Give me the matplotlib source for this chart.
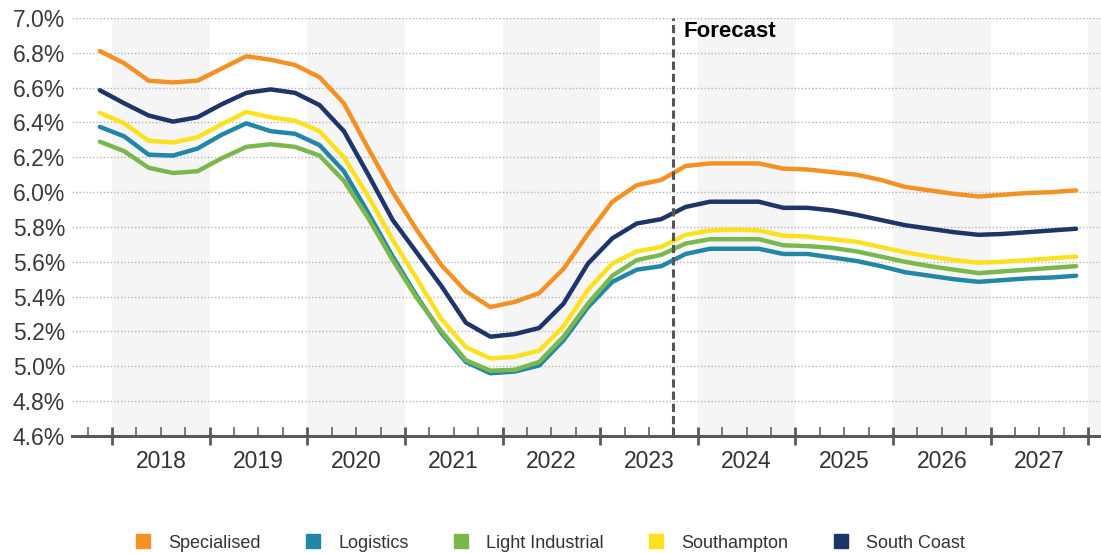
import numpy as np
import pandas as pd
import matplotlib
matplotlib.use("Agg")
import matplotlib.pyplot as plt
from matplotlib.lines import Line2D

plt.rcParams['font.family'] = ['Liberation Sans', 'DejaVu Sans']

# quarterly yields, 2017 Q4 to 2027 Q4 (%)
quarters = pd.period_range("2017Q4", "2027Q4", freq="Q")
years = list(range(2018, 2028))
forecast_from = 2023.75

specialised = [6.81, 6.74, 6.64, 6.63, 6.64, 6.71, 6.78, 6.76, 6.73, 6.66,
               6.51, 6.25, 6.00, 5.78, 5.58, 5.43, 5.34, 5.37, 5.42, 5.56,
               5.76, 5.945, 6.04, 6.07, 6.15, 6.165, 6.165, 6.165, 6.135, 6.13,
               6.115, 6.10, 6.07, 6.03, 6.01, 5.99, 5.975, 5.985, 5.995, 6.00, 6.01]
logistics = [6.375, 6.32, 6.215, 6.21, 6.25, 6.33, 6.395, 6.35, 6.335, 6.27,
             6.12, 5.88, 5.63, 5.40, 5.19, 5.025, 4.96, 4.97, 5.005, 5.15,
             5.34, 5.485, 5.555, 5.575, 5.645, 5.675, 5.675, 5.675, 5.645, 5.645,
             5.625, 5.605, 5.575, 5.54, 5.52, 5.50, 5.485, 5.495, 5.505, 5.51, 5.52]
light_industrial = [6.29, 6.235, 6.14, 6.11, 6.12, 6.195, 6.26, 6.275, 6.26, 6.21,
                    6.065, 5.85, 5.61, 5.39, 5.20, 5.035, 4.975, 4.98, 5.025, 5.17,
                    5.36, 5.52, 5.61, 5.64, 5.705, 5.73, 5.73, 5.73, 5.695, 5.69,
                    5.68, 5.66, 5.63, 5.60, 5.575, 5.555, 5.535, 5.545, 5.555, 5.565, 5.575]
southampton = [6.455, 6.395, 6.295, 6.285, 6.315, 6.39, 6.46, 6.43, 6.41, 6.35,
               6.20, 5.975, 5.725, 5.50, 5.27, 5.11, 5.045, 5.055, 5.09, 5.23,
               5.44, 5.59, 5.66, 5.685, 5.755, 5.78, 5.785, 5.78, 5.75, 5.745,
               5.73, 5.715, 5.685, 5.655, 5.63, 5.61, 5.595, 5.60, 5.61, 5.62, 5.63]
south_coast = [6.585, 6.51, 6.44, 6.405, 6.43, 6.505, 6.57, 6.59, 6.57, 6.50,
               6.35, 6.10, 5.84, 5.65, 5.46, 5.25, 5.17, 5.185, 5.22, 5.36,
               5.59, 5.735, 5.82, 5.845, 5.915, 5.945, 5.945, 5.945, 5.91, 5.91,
               5.895, 5.87, 5.84, 5.81, 5.79, 5.77, 5.755, 5.76, 5.77, 5.78, 5.79]

series = {
    'Specialised': (specialised, '#F39124'),
    'Logistics': (logistics, '#2286A6'),
    'Light Industrial': (light_industrial, '#7AB84E'),
    'Southampton': (southampton, '#FCE11E'),
    'South Coast': (south_coast, '#1D3568'),
}

# plot each quarter in the middle of its quarter
x = np.array(quarters.year + (quarters.quarter - 1) * 0.25 + 0.125)

fig = plt.figure(figsize=(11.01, 5.53), dpi=100)
ax = fig.add_axes([0.0654, 0.2116, 0.9346, 0.7559])

# alternating year bands
for y in years + [2028]:
    if y % 2 == 0:
        ax.axvspan(y, y + 1, color='#f5f5f5', lw=0, zorder=0)

yticks = np.round(np.arange(4.6, 7.01, 0.2), 1)
for v in yticks[1:]:
    ax.axhline(v, color='#b5b5b5', lw=1.0, ls=(0, (1, 1.5)), zorder=1)

for name, (vals, col) in series.items():
    ax.plot(x, vals, color=col, lw=3.2, solid_joinstyle='round',
            solid_capstyle='round', zorder=3, label=name)

ax.axvline(forecast_from, color='#555555', lw=2.2, ls=(0, (2.7, 1.3)), zorder=4)
ax.text(forecast_from + 0.1, 6.925, 'Forecast', fontsize=16, fontweight='bold',
        color='black', ha='left', va='center', zorder=5)

ax.set_xlim(2017.59, 2028.13)
ax.set_ylim(4.6, 7.0)

ax.set_yticks(yticks)
ax.set_yticklabels([f"{v:.1f}%" for v in yticks], fontsize=16.5, color='#3a3a3a')
ax.tick_params(axis='y', length=0, pad=5)

ax.set_xticks([y for y in years] + [2028])
ax.set_xticks([y + q for y in [2017] + years for q in (0.25, 0.5, 0.75)
               if 2017.59 < y + q < 2028.13], minor=True)
ax.tick_params(axis='x', which='major', direction='inout', length=13, width=2,
               color='#595959', labelbottom=False)
ax.tick_params(axis='x', which='minor', direction='in', length=6.5, width=1.1,
               color='#595959')

for y in years:
    ax.text(y + 0.5, -0.062, str(y), transform=ax.get_xaxis_transform(),
            ha='center', va='center', fontsize=16.5, color='#333333')

for s in ['top', 'right', 'left']:
    ax.spines[s].set_visible(False)
ax.spines['bottom'].set_color('#595959')
ax.spines['bottom'].set_linewidth(2.2)
ax.spines['bottom'].set_zorder(6)

handles = [Line2D([], [], ls='none', marker='s', markersize=10,
                  markerfacecolor=col, markeredgecolor=col)
           for vals, col in series.values()]
fig.legend(handles, list(series.keys()), loc='center', bbox_to_anchor=(0.5, 0.018),
           ncol=5, frameon=False, fontsize=13, handlelength=0.8, handletextpad=1.0,
           columnspacing=2.5, labelcolor='#333333')

fig.savefig('out.png', dpi=100)
